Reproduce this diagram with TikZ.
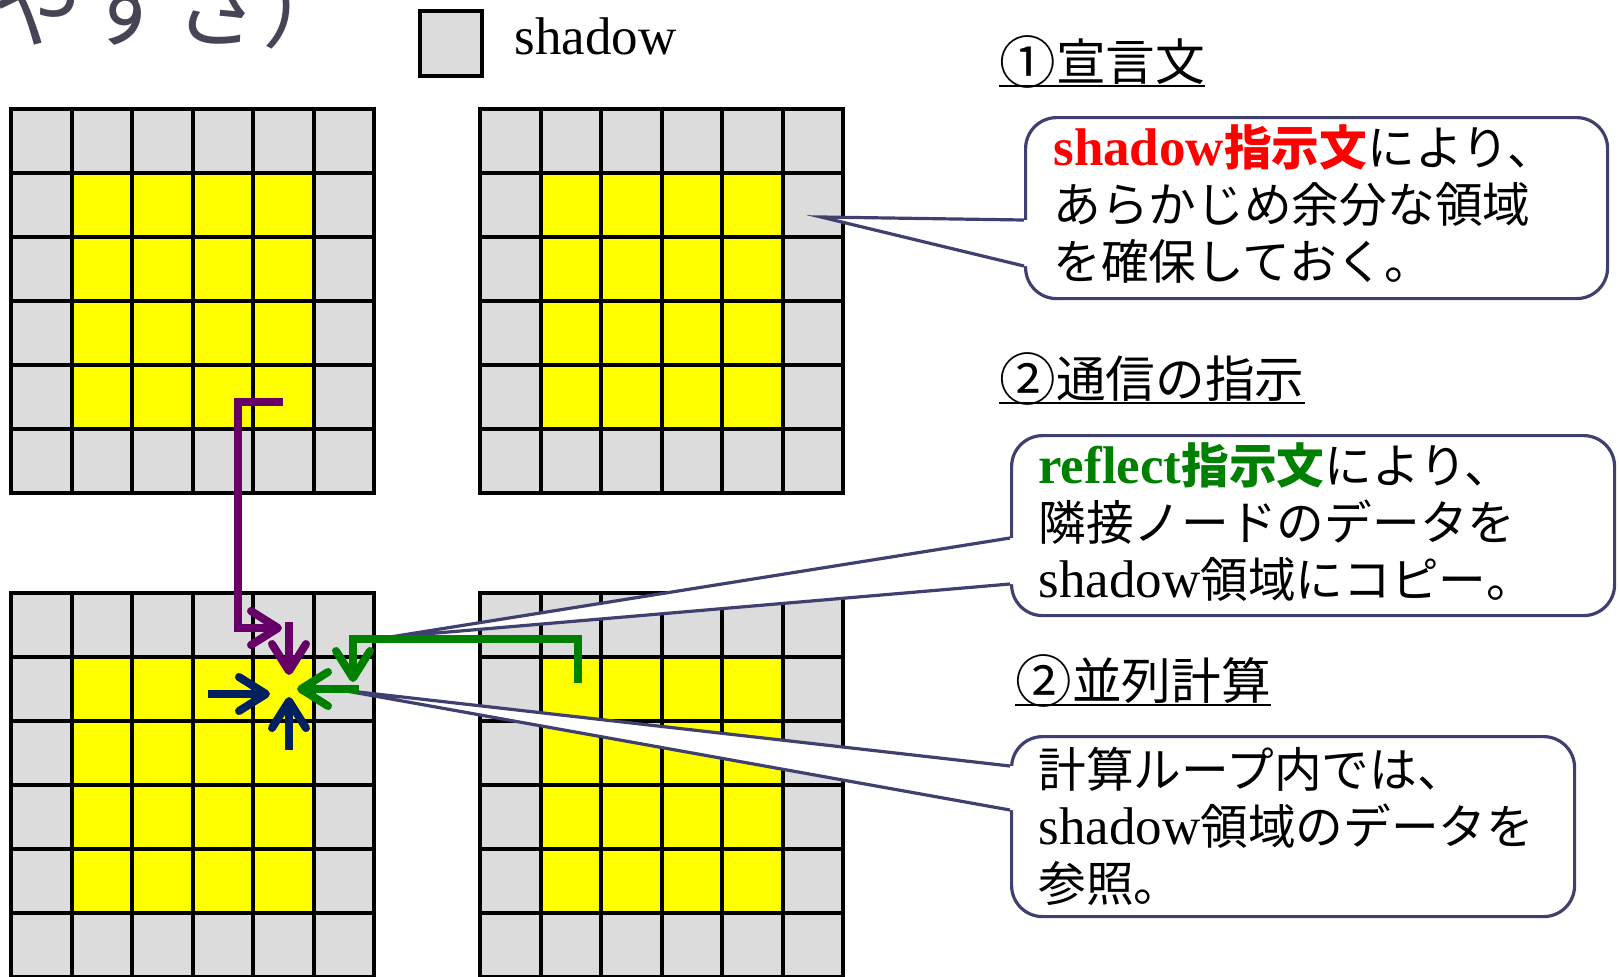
\documentclass[tikz,border=0pt]{standalone}
\usepackage{fontspec}
\setmainfont{Liberation Serif}
\newfontfamily\jpfont[Scale=0.9]{Noto Sans CJK JP}
\newfontfamily\titlefont{Noto Sans CJK JP}
\usetikzlibrary{calc,arrows.meta}
\definecolor{sd_gray}{HTML}{DCDCDC}
\definecolor{sd_yellow}{HTML}{FFFF00}
\definecolor{sd_red}{HTML}{FF0000}
\definecolor{sd_green}{HTML}{008000}
\definecolor{sd_purple}{HTML}{660066}
\definecolor{sd_navy}{HTML}{002060}
\definecolor{sd_slate}{HTML}{404070}
\definecolor{sd_title}{HTML}{454555}

\newcommand{\lat}[1]{{\rmfamily #1}}
\newcommand{\circnum}[1]{\raisebox{-0.08em}{\scalebox{1.14}{#1}}}
\newcommand{\noteText}[3]{\vtop{\hbox{#1}\hbox{#2}\hbox{#3}}}
% one 6x6 block: shadow ring + 4x4 inner cells
\newcommand{\cellblock}[2]{%
  \begin{scope}[shift={(#1,#2)}]
    \fill[sd_gray] (0,0) rectangle (363,384);
    \fill[sd_yellow] (60.5,64) rectangle (302.5,320);
    \foreach \i in {0,...,6} {
      \draw[gridline] (\i*60.5,0) -- (\i*60.5,384);
      \draw[gridline] (0,\i*64) -- (363,\i*64);
    }
  \end{scope}}

\tikzset{
  gridline/.style={line width=2pt, line cap=rect},
  callbox/.style={draw=sd_slate, line width=1.6pt, fill=white, rounded corners=15.5pt, anchor=north west, inner sep=0pt},
  callptr/.style={draw=sd_slate, line width=1.6pt},
  flow/.style={line width=4pt, -{Straight Barb[length=13.5pt,width=17pt,round]}},
  heading/.style={font=\fontsize{27.6}{30}\selectfont\jpfont, anchor=base west, inner sep=0pt},
  notetext/.style={font=\fontsize{26.5}{28.5}\selectfont\jpfont, anchor=base west, inner sep=0pt},
}

\begin{document}
\begin{tikzpicture}[x=0.5pt, y=-0.5pt]
  \useasboundingbox (0,0) rectangle (1619,976);

  % title (cut off at the top)
  \begin{scope}
    \clip (0,0) rectangle (1619,976);
    \node[font=\fontsize{45}{47}\selectfont\titlefont, text=sd_title, anchor=base west, inner sep=0pt] (title) at (-8,40) {やすさ）};
  \end{scope}

  % legend
  \node[draw, line width=2pt, fill=sd_gray, minimum width=31pt, minimum height=32.5pt, anchor=north west, inner sep=0pt] (legbox) at (418,9) {};
  \node[font=\fontsize{26.5}{28}\selectfont, anchor=base west, inner sep=0pt] (legtext) at (514,54) {shadow};

  % the four blocks
  \cellblock{11}{109}
  \cellblock{480}{109}
  \cellblock{11}{593}
  \cellblock{480}{593}

  % headings
  \node[heading] (head1) at (999,80) {\circnum{①}宣言文};
  \node[heading] (head2) at (999,397) {\circnum{②}通信の指示};
  \node[heading] (head3) at (1015,699) {\circnum{②}並列計算};
  \foreach \h in {head1,head2,head3}
    \draw[line width=1.3pt] ($(\h.base west)+(0,6)$) -- ($(\h.base east)+(0,6)$);

  % callouts
  \node[callbox, minimum width=291pt, minimum height=90.5pt] (box1) at (1024,116) {};
  \node[callbox, minimum width=301.5pt, minimum height=90pt] (box2) at (1010,434) {};
  \node[callbox, minimum width=281.5pt, minimum height=90pt] (box3) at (1010,735) {};

  \coordinate (tip1) at (821,217);
  \coordinate (tip2) at (390,637);
  \coordinate (tip3) at (341,690);
  \coordinate (b1a) at ($(box1.north west)+(0,104)$);
  \coordinate (b1b) at ($(box1.north west)+(0,150)$);
  \coordinate (b2a) at ($(box2.north west)+(0,104)$);
  \coordinate (b2b) at ($(box2.north west)+(0,150)$);
  \coordinate (b3a) at ($(box3.north west)+(0,31)$);
  \coordinate (b3b) at ($(box3.north west)+(0,75)$);

  \foreach \n in {1,2,3} {
    \fill[white] (b\n a) -- (tip\n) -- (b\n b) -- ++(4,0) -- ($(b\n a)+(4,0)$) -- cycle;
    \draw[callptr] (b\n a) -- (tip\n) -- (b\n b);
  }

  \node[notetext] (note1) at (1053,165) {\noteText{\textcolor{sd_red}{\bfseries\lat{shadow}指示文}により、}{あらかじめ余分な領域}{を確保しておく。}};
  \node[notetext] (note2) at (1038,483) {\noteText{\textcolor{sd_green}{\bfseries\lat{reflect}指示文}により、}{隣接ノードのデータを}{\lat{shadow}領域にコピー。}};
  \node[notetext] (note3) at (1038,787) {\noteText{計算ループ内では、}{\lat{shadow}領域のデータを}{参照。}};

  % data movement
  \coordinate (pStart) at (283,402);
  \coordinate (pBend) at (238,628);
  \coordinate (pEnd) at (282,628);
  \coordinate (pDownA) at (289,622);
  \coordinate (pDownB) at (289,675);
  \draw[flow, sd_purple] (pStart) -| (pBend) -- (pEnd);
  \draw[flow, sd_purple] (pDownA) -- (pDownB);

  \coordinate (gStart) at (578,683);
  \coordinate (gBend) at (353,639);
  \coordinate (gEnd) at (353,682);
  \coordinate (gLeftA) at (359,689);
  \coordinate (gLeftB) at (297,689);
  \draw[flow, sd_green] (gStart) |- (gBend) -- (gEnd);
  \draw[flow, sd_green] (gLeftA) -- (gLeftB);

  \coordinate (nRightA) at (208,694);
  \coordinate (nRightB) at (270,694);
  \coordinate (nUpA) at (289,750);
  \coordinate (nUpB) at (289,697);
  \draw[flow, sd_navy] (nRightA) -- (nRightB);
  \draw[flow, sd_navy] (nUpA) -- (nUpB);
\end{tikzpicture}
\end{document}
